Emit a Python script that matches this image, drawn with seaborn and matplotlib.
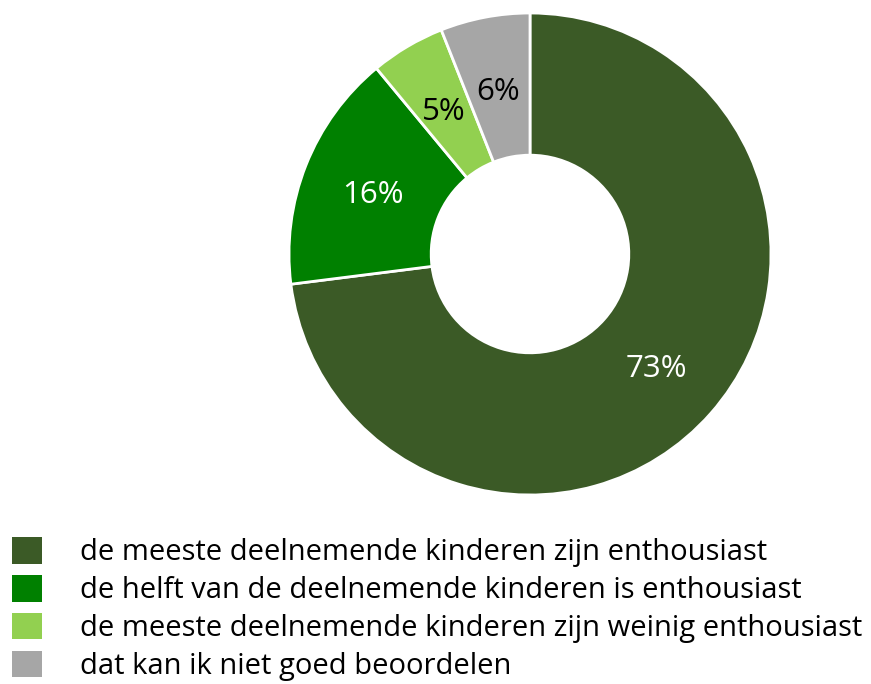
import matplotlib
matplotlib.use("Agg")
import matplotlib.pyplot as plt
import seaborn as sns
from matplotlib.patches import Patch

categories = [
    "de meeste deelnemende kinderen zijn enthousiast",
    "de helft van de deelnemende kinderen is enthousiast",
    "de meeste deelnemende kinderen zijn weinig enthousiast",
    "dat kan ik niet goed beoordelen",
]
values = [73, 16, 5, 6]
labels = ["73%", "16%", "5%", "6%"]
colors = ["#3B5A26", "#008000", "#92D050", "#A6A6A6"]
label_colors = ["white", "white", "black", "black"]

sns.set_theme(style="white")
plt.rcParams["font.family"] = ["Open Sans", "DejaVu Sans"]
plt.rcParams["text.color"] = "black"

W, H = 871, 684
fig = plt.figure(figsize=(W / 100, H / 100), dpi=100)
cx, cy, R = 530, 254, 241
ax = fig.add_axes([(cx - R) / W, (H - cy - R) / H, 2 * R / W, 2 * R / H])

wedges, texts = ax.pie(
    values,
    colors=colors,
    startangle=90,
    counterclock=False,
    radius=1.0,
    labels=labels,
    labeldistance=0.70,
    wedgeprops=dict(width=0.59, edgecolor="white", linewidth=2.0),
    textprops=dict(fontsize=22.5),
)
for t, c in zip(texts, label_colors):
    t.set_color(c)
    t.set_horizontalalignment("center")
    t.set_verticalalignment("center_baseline")
ax.set_xlim(-1, 1)
ax.set_ylim(-1, 1)
ax.set_aspect("equal")
ax.axis("off")

fs = 21
px = fs * 100 / 72
handles = [Patch(facecolor=c, edgecolor="none") for c in colors]
fig.legend(
    handles,
    categories,
    loc="upper left",
    bbox_to_anchor=(12 / W, 1 - 537 / H),
    frameon=False,
    fontsize=fs,
    labelcolor="black",
    borderpad=0,
    borderaxespad=0,
    handlelength=30 / px,
    handleheight=30 / px,
    handletextpad=(80 - 42) / px,
    labelspacing=0.26,
)

fig.savefig("out.png", dpi=100)
